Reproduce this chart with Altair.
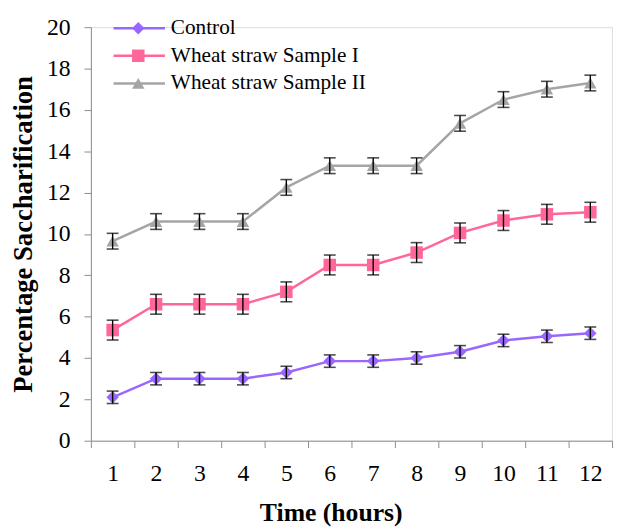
import altair as alt
import pandas as pd

hours = list(range(1, 13))
series_names = ["Control", "Wheat straw Sample I", "Wheat straw Sample II"]
control = [2.1, 3.0, 3.0, 3.0, 3.3, 3.85, 3.85, 4.0, 4.3, 4.85, 5.05, 5.2]
sample1 = [5.35, 6.6, 6.6, 6.6, 7.2, 8.5, 8.5, 9.1, 10.05, 10.65, 10.95, 11.05]
sample2 = [9.65, 10.6, 10.6, 10.6, 12.25, 13.3, 13.3, 13.3, 15.35, 16.5, 17.0, 17.3]
control_err = [0.3] * 12
sample1_err = [0.48] * 12
sample2_err = [0.38] * 12
colors = ["#9966ff", "#ff6699", "#a5a5a5"]
shapes = ["diamond", "square", "triangle-up"]

rows = []
for name, vals, errs in zip(series_names, [control, sample1, sample2],
                            [control_err, sample1_err, sample2_err]):
    for h, v, e in zip(hours, vals, errs):
        rows.append({"t": h, "value": v, "lo": v - e, "hi": v + e, "series": name})
df = pd.DataFrame(rows)
legend_df = pd.DataFrame({"series": series_names})

FONT = "Liberation Serif"
color_scale = alt.Scale(domain=series_names, range=colors)
shape_scale = alt.Scale(domain=series_names, range=shapes)

x_enc = alt.X(
    "t:O",
    bandPosition=0.5,
    scale=alt.Scale(type="band", paddingInner=0, paddingOuter=0),
    axis=alt.Axis(
        title="Time (hours)", labelAngle=0, tickBand="extent", tickSize=7,
        labelPadding=14, labelFont=FONT, labelFontSize=24, labelColor="black",
        titleFont=FONT, titleFontSize=26, titleFontWeight="bold", titleColor="black",
        titlePadding=15, titleX=243, domainColor="#8c8c8c", tickColor="#8c8c8c",
        grid=False,
    ),
)
y_scale = alt.Scale(domain=[0, 20], nice=False, zero=True)
y_enc = alt.Y(
    "value:Q",
    scale=y_scale,
    axis=alt.Axis(
        title="Percentage Saccharification", values=list(range(0, 21, 2)),
        tickSize=7, labelPadding=14, labelFont=FONT, labelFontSize=24,
        labelColor="black", titleFont=FONT, titleFontSize=27,
        titleFontWeight="bold", titleColor="black", titlePadding=9,
        domainColor="#8c8c8c", tickColor="#8c8c8c", grid=False,
    ),
)

base = alt.Chart(df)
lines = base.mark_line(strokeWidth=2.5).encode(
    x=x_enc, y=y_enc,
    color=alt.Color("series:N", scale=color_scale, legend=None),
    detail="series:N",
)
points = base.mark_point(filled=True, opacity=1, size=160).encode(
    x=x_enc, y=alt.Y("value:Q", scale=y_scale),
    color=alt.Color("series:N", scale=color_scale, legend=None),
    shape=alt.Shape("series:N", scale=shape_scale, legend=None),
)
err_rule = base.mark_rule(color="black", strokeWidth=1.4).encode(
    x=x_enc, y=alt.Y("lo:Q", scale=y_scale), y2="hi:Q",
)
err_lo = base.mark_tick(color="black", thickness=1.6, size=12, orient="horizontal").encode(
    x=x_enc, y=alt.Y("lo:Q", scale=y_scale),
)
err_hi = base.mark_tick(color="black", thickness=1.6, size=12, orient="horizontal").encode(
    x=x_enc, y=alt.Y("hi:Q", scale=y_scale),
)
main = alt.layer(lines, points, err_rule, err_lo, err_hi)

leg_y = alt.Y("series:N",
              scale=alt.Scale(type="point", domain=series_names, range=[1, 57], padding=0),
              axis=None)
leg_base = alt.Chart(legend_df)
leg_lines = leg_base.mark_rule(strokeWidth=2.5).encode(
    x=alt.value(23), x2=alt.value(75), y=leg_y,
    color=alt.Color("series:N", scale=color_scale, legend=None),
)
leg_pts = leg_base.mark_point(filled=True, opacity=1, size=160).encode(
    x=alt.value(48), y=leg_y,
    color=alt.Color("series:N", scale=color_scale, legend=None),
    shape=alt.Shape("series:N", scale=shape_scale, legend=None),
)
leg_text = leg_base.mark_text(align="left", baseline="middle", font=FONT,
                              fontSize=21.5, color="black").encode(
    x=alt.value(81), y=leg_y, text="series:N",
)
legend = alt.layer(leg_lines, leg_pts, leg_text)

chart = alt.layer(main, legend).resolve_scale(y="independent").properties(
    width=528, height=419,
    autosize=alt.AutoSizeParams(type="none"),
    padding={"left": 84, "top": 16, "right": 3, "bottom": 84},
).configure_view(stroke=None).configure(background="white")

chart.save("out.html", embed_options={"renderer": "svg", "actions": False})
